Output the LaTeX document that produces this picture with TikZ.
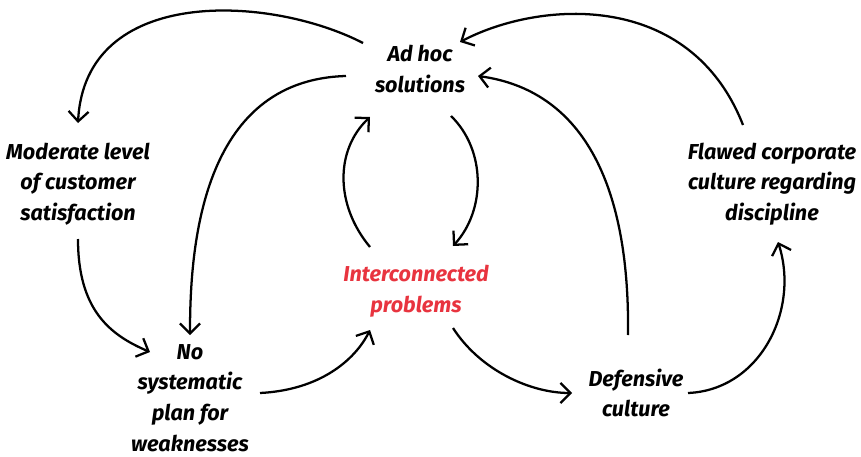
\documentclass[tikz,border=0pt]{standalone}
\usepackage{fontspec}
\setmainfont{Fira Sans}
\usetikzlibrary{arrows.meta}
\definecolor{hot}{HTML}{E8343F}
\begin{document}
\begin{tikzpicture}[x=0.75pt, y=-0.75pt,
  lbl/.style={align=center, font=\fontsize{16.2}{23}\selectfont\bfseries\itshape, inner sep=0pt},
  link/.style={line width=1.7pt, -{Straight Barb[length=7.5pt, width=15pt, line width=1.7pt]}}]
\useasboundingbox (0,0) rectangle (861,457);

% issues
\node[lbl] (adhoc) at (420,69) {Ad hoc\\solutions};
\node[lbl] (moderate) at (78,184) {Moderate level\\of customer\\satisfaction};
\node[lbl] (nosys) at (190,398) {No\\systematic\\plan for\\weaknesses};
\node[lbl, text=hot] (inter) at (416,291) {Interconnected\\problems};
\node[lbl] (defensive) at (636,393) {Defensive\\culture};
\node[lbl] (flawed) at (772,184) {Flawed corporate\\culture regarding\\discipline};

% connector end points
\coordinate (a1) at (363,43);  \coordinate (m1) at (78,123);
\coordinate (a2) at (346,76);  \coordinate (n1) at (190,335);
\coordinate (m2) at (78,239);  \coordinate (n2) at (150,352);
\coordinate (n3) at (260,393); \coordinate (i1) at (370,330);
\coordinate (i2) at (370,247); \coordinate (a3) at (370,117);
\coordinate (a4) at (451,116); \coordinate (i3) at (453,246);
\coordinate (i4) at (453,328); \coordinate (d1) at (572,393);
\coordinate (d2) at (628,335); \coordinate (a5) at (478,76);
\coordinate (d3) at (688,393); \coordinate (f1) at (778,242);
\coordinate (f2) at (743,125); \coordinate (a6) at (460,42);

% feedback loops
\draw[link] (a1) .. controls (270,-5) and (85,-15) .. (m1);
\draw[link] (a2) .. controls (200,80) and (190,250) .. (n1);
\draw[link] (m2) .. controls (78,310) and (110,335) .. (n2);
\draw[link] (n3) .. controls (320,390) and (355,360) .. (i1);
\draw[link] (i2) .. controls (335,205) and (335,150) .. (a3);
\draw[link] (a4) .. controls (486,150) and (486,210) .. (i3);
\draw[link] (i4) .. controls (480,370) and (530,393) .. (d1);
\draw[link] (d2) .. controls (630,180) and (580,90) .. (a5);
\draw[link] (d3) .. controls (760,390) and (800,310) .. (f1);
\draw[link] (f2) .. controls (690,-10) and (540,0) .. (a6);
\end{tikzpicture}
\end{document}
